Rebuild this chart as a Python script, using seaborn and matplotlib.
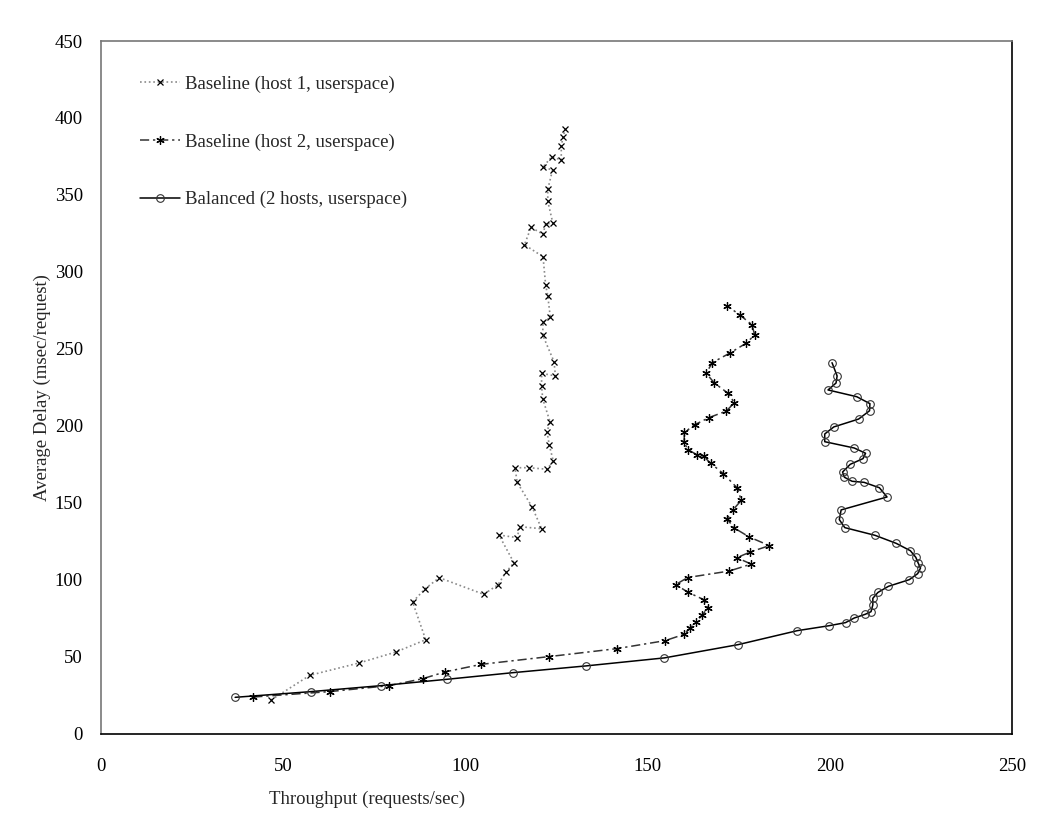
import matplotlib
matplotlib.use('Agg')
import matplotlib.pyplot as plt
import seaborn as sns

# valores (throughput x atraso medio)
host1_x = [46.7, 57.3, 70.8, 80.9, 89.1, 85.5, 88.9, 92.8, 105.0, 108.9,
           111.1, 113.3, 109.2, 114.2, 114.9, 120.9, 118.3, 114.2, 113.6, 117.5,
           122.4, 124.1, 123.0, 122.4, 123.2, 121.2, 120.9, 120.9, 124.7, 124.3,
           121.2, 121.3, 123.3, 122.6, 122.0, 121.3, 116.2, 118.0, 121.3, 122.0,
           124.0, 122.6, 122.6, 123.9, 121.3, 123.7, 126.3, 126.3, 126.8, 127.4]
host1_y = [22.1, 38.1, 46.1, 53.2, 61.2, 85.7, 94.2, 101.5, 90.7, 96.8,
           105.0, 111.2, 129.2, 127.5, 134.6, 133.3, 147.4, 163.4, 172.9, 172.9,
           171.9, 177.3, 187.7, 196.1, 202.8, 217.7, 226.0, 234.2, 232.5, 241.8,
           259.1, 267.3, 270.5, 284.4, 291.8, 309.9, 317.7, 329.0, 324.5, 331.4,
           331.6, 345.9, 353.7, 366.2, 368.2, 374.9, 372.7, 381.6, 387.9, 392.6]

host2_x = [41.8, 62.7, 79.1, 88.3, 94.4, 104.3, 122.8, 141.5, 154.8, 160.0,
           161.7, 163.3, 165.0, 166.5, 165.6, 161.1, 157.7, 161.0, 172.4, 178.4,
           174.5, 178.2, 183.4, 177.9, 173.6, 171.8, 173.4, 175.7, 174.6, 170.8,
           167.3, 165.4, 163.5, 161.0, 160.0, 160.1, 163.0, 166.8, 171.6, 173.8,
           172.1, 168.3, 166.1, 167.7, 172.6, 177.0, 179.4, 178.6, 175.4, 171.8]
host2_y = [24.0, 27.5, 31.4, 35.9, 40.3, 45.2, 50.2, 55.4, 60.6, 64.7,
           68.8, 72.7, 77.2, 81.8, 87.0, 92.0, 97.0, 101.6, 105.8, 110.3,
           114.5, 118.2, 122.3, 127.9, 134.0, 139.8, 145.5, 151.7, 159.7, 169.0,
           175.8, 180.2, 181.4, 184.7, 189.7, 195.9, 200.9, 205.4, 209.7, 215.1,
           221.2, 227.9, 234.2, 241.1, 247.4, 253.7, 259.1, 265.8, 271.9, 278.1]

bal_x = [36.8, 57.6, 76.9, 94.9, 113.0, 133.1, 154.6, 174.8, 191.1, 199.8,
         204.3, 206.7, 209.7, 211.3, 211.8, 211.8, 213.2, 216.1, 221.8, 224.1,
         224.9, 224.2, 223.6, 222.1, 218.2, 212.4, 204.1, 202.6, 203.1, 215.7,
         213.6, 209.4, 206.1, 204.0, 203.5, 205.6, 209.1, 209.8, 206.7, 198.6,
         198.6, 201.1, 207.9, 210.9, 211.0, 207.4, 199.5, 201.7, 202.0, 200.6]
bal_y = [23.8, 27.5, 31.4, 35.5, 39.8, 44.2, 49.4, 58.0, 67.1, 70.3,
         72.3, 75.3, 77.7, 79.4, 83.8, 88.1, 91.9, 95.9, 100.2, 104.1,
         107.8, 111.2, 114.7, 119.0, 123.8, 129.0, 134.0, 139.2, 145.5, 153.9,
         159.9, 163.4, 164.1, 166.7, 170.1, 175.1, 178.8, 182.3, 185.7, 189.8,
         194.8, 199.4, 204.5, 209.9, 214.5, 219.0, 223.4, 227.9, 232.5, 241.1]

labels = ['Baseline (host 1, userspace)',
          'Baseline (host 2, userspace)',
          'Balanced (2 hosts, userspace)']

sns.set_style('white')
plt.rcParams['font.family'] = ['Liberation Serif', 'DejaVu Serif']
plt.rcParams['font.size'] = 13.5

fig = plt.figure(figsize=(10.47, 8.30), dpi=100)
ax = fig.add_axes([0.0965, 0.1157, 0.8701, 0.8349])

sns.lineplot(x=host1_x, y=host1_y, sort=False, estimator=None, ax=ax,
             color='#8a8a8a', linestyle=':', linewidth=1.2,
             marker='x', markersize=5, markeredgecolor='black',
             markeredgewidth=0.9, label=labels[0])
sns.lineplot(x=host2_x, y=host2_y, sort=False, estimator=None, ax=ax,
             color='#333333', linestyle=(0, (6, 2.5, 1.5, 2.5)), linewidth=1.1,
             marker=(6, 2, 0), markersize=6, markeredgecolor='black',
             markeredgewidth=0.9, label=labels[1])
sns.lineplot(x=bal_x, y=bal_y, sort=False, estimator=None, ax=ax,
             color='black', linestyle='-', linewidth=1.1,
             marker='o', markersize=5.5, markerfacecolor='none',
             markeredgecolor='#333333', markeredgewidth=0.8, label=labels[2])

ax.set_xlim(0, 250)
ax.set_ylim(0, 450)
ax.set_xticks(range(0, 251, 50))
ax.set_yticks(range(0, 451, 50))

for s in ['top', 'left']:
    ax.spines[s].set_color('#777777')
for s in ['bottom', 'right']:
    ax.spines[s].set_color('black')
for s in ax.spines.values():
    s.set_linewidth(1.2)

ax.tick_params(axis='both', direction='out', length=7, width=0.8,
               color='#cccccc', labelcolor='black', labelsize=13.5, pad=6)
ax.tick_params(axis='x', pad=10)

ax.set_xlabel('Throughput (requests/sec)', fontsize=13.5)
ax.set_ylabel('Average Delay (msec/request)', fontsize=13.5)
ax.xaxis.set_label_coords(0.292, -0.082)
ax.yaxis.set_label_coords(-0.055, 0.5)

ax.legend(loc='upper left', bbox_to_anchor=(0.043, 0.95), frameon=False,
          fontsize=13.5, handlelength=2.1, handletextpad=0.3,
          labelspacing=2.15, borderaxespad=0, borderpad=0)

plt.savefig('out.png', dpi=100)
plt.close()
